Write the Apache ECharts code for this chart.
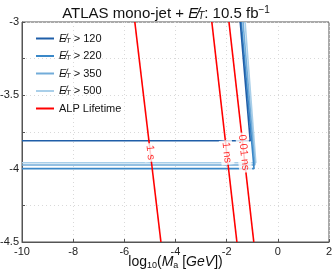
<!DOCTYPE html>
<html><head><meta charset="utf-8">
<script src="https://cdn.jsdelivr.net/npm/echarts@6/dist/echarts.min.js"></script>
<style>html,body{margin:0;padding:0;background:#fff}#c{width:332px;height:273px}</style>
</head><body><div id="c"></div>
<script>
// Data
const met120 = [[-10, -3.81], [-1.08, -3.81], [-1.47, -3]];
const met220 = [[-10, -4.0], [-0.93, -4.0], [-1.43, -3]];
const met350 = [[-10, -3.975], [-0.9, -3.975], [-1.36, -3]];
const met500 = [[-10, -3.96], [-0.86, -3.96], [-1.28, -3]];
const life1s = [[-5.59, -3], [-4.57, -4.5]];
const life1ns = [[-2.58, -3], [-1.6, -4.5]];
const life001ns = [[-1.91, -3], [-0.94, -4.5]];
const lifeLabels = ['1 s', '1 ns', '0.01 ns'];
const labelY = -3.89;
const metCuts = ['120', '220', '350', '500'];
const xTicks = [-10, -8, -6, -4, -2, 0, 2];
const yTicks = [-4.5, -4, -3.5, -3];

function interpX(line, y) {
  const [a, b] = line;
  const t = (y - a[1]) / (b[1] - a[1]);
  return a[0] + t * (b[0] - a[0]);
}

const blues = ['#1f5ea8', '#3a88c8', '#72acd9', '#a9cfe9'];
const metData = [met120, met220, met350, met500];
const metNames = metCuts.map(c => 'MET' + c);
const font = 'Liberation Sans, Arial, sans-serif';

const series = [];
metData.forEach((d, i) => {
  series.push({
    name: metNames[i], type: 'line', data: d, symbol: 'none', showSymbol: false,
    lineStyle: {color: blues[i], width: 1.6}, itemStyle: {color: blues[i]}, z: 3 - i, animation: false
  });
});
[life1s, life1ns, life001ns].forEach(d => {
  series.push({
    name: 'ALP Lifetime', type: 'line', data: d, symbol: 'none', showSymbol: false,
    lineStyle: {color: '#ff0000', width: 1.6}, itemStyle: {color: '#ff0000'}, z: 4, animation: false
  });
});
series.push({
  type: 'scatter', symbolSize: 0, z: 6, animation: false, silent: true,
  data: [life1s, life1ns, life001ns].map((l, i) => ({
    value: [interpX(l, labelY), labelY],
    label: {
      show: true, position: 'inside', formatter: lifeLabels[i], rotate: -83.5,
      color: '#ff0000', fontSize: 11, fontFamily: font, backgroundColor: '#fff', padding: [1, 2]
    }
  }))
});

const richBase = {
  n: {fontSize: 11, fontFamily: font, color: '#111'},
  i: {fontSize: 11, fontFamily: font, fontStyle: 'italic', color: '#111'},
  s: {fontSize: 7, fontFamily: font, fontStyle: 'italic', color: '#111', padding: [5, 0, 0, 0]}
};

const chart = echarts.init(document.getElementById('c'), null, {renderer: 'canvas'});
chart.setOption({
  animation: false,
  backgroundColor: '#fff',
  title: {
    left: 'center', top: 0,
    text: '{n|ATLAS mono-jet + }{i|E\u0338}{s|T}{n|: 10.5 fb}{p|\u22121}',
    textStyle: {
      fontWeight: 'normal',
      rich: {
        n: {fontSize: 15, fontFamily: font, color: '#111', fontWeight: 'normal'},
        i: {fontSize: 15, fontFamily: font, fontStyle: 'italic', color: '#111', fontWeight: 'normal'},
        s: {fontSize: 10, fontFamily: font, fontStyle: 'italic', color: '#111', fontWeight: 'normal', padding: [6, 0, 0, 0]},
        p: {fontSize: 10, fontFamily: font, color: '#111', fontWeight: 'normal', padding: [0, 0, 7, 0]}
      }
    }
  },
  legend: {
    left: 30, top: 28, orient: 'vertical', itemWidth: 18, itemHeight: 10, itemGap: 6,
    itemStyle: {opacity: 0, borderWidth: 0},
    data: metNames.concat(['ALP Lifetime']),
    formatter: function (name) {
      if (name === 'ALP Lifetime') return '{n|ALP Lifetime}';
      return '{i|E\u0338}{s|T}{n| > ' + name.slice(3) + '}';
    },
    textStyle: {rich: richBase, fontSize: 11, fontFamily: font}
  },
  grid: {left: 22, right: 3, top: 22, bottom: 31, show: true, borderColor: '#555', borderWidth: 1,
    containLabel: false, outerBoundsMode: 'none'},
  xAxis: {
    type: 'value', min: -10, max: 2, interval: 2,
    name: '{n|log}{s|10}{n|(}{i|M}{s|a}{n| [}{i|GeV}{n|])}',
    nameLocation: 'middle', nameGap: 12, nameMoveOverlap: false,
    nameTextStyle: {rich: {
      n: {fontSize: 14, fontFamily: font, color: '#111'},
      i: {fontSize: 14, fontFamily: font, fontStyle: 'italic', color: '#111'},
      s: {fontSize: 9, fontFamily: font, color: '#111', padding: [7, 0, 0, 0]}
    }},
    axisLine: {onZero: false, lineStyle: {color: '#555'}},
    axisTick: {inside: true, length: 3, lineStyle: {color: '#555'}},
    axisLabel: {fontSize: 11, fontFamily: font, color: '#222', margin: 4,
      formatter: v => xTicks.includes(v) ? String(v) : ''},
    splitLine: {show: true, lineStyle: {color: '#d9d9d9', type: [1, 3]}}
  },
  yAxis: {
    type: 'value', min: -4.5, max: -3, interval: 0.25,
    axisLine: {show: true, onZero: false, lineStyle: {color: '#555'}},
    axisTick: {show: true, inside: true, length: 3, lineStyle: {color: '#555'}},
    axisLabel: {fontSize: 11, fontFamily: font, color: '#222', margin: 3,
      formatter: v => yTicks.some(t => Math.abs(t - v) < 1e-9) ? String(v) : ''},
    splitLine: {show: true, lineStyle: {color: '#d9d9d9', type: [1, 3]}}
  },
  series: series
});
</script></body></html>
